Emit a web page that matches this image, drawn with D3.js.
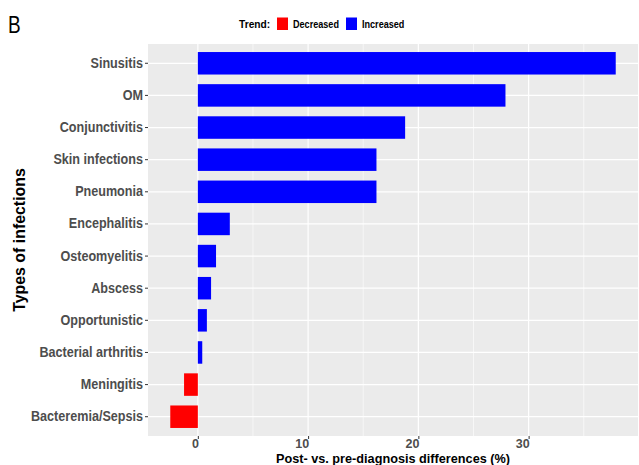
<!DOCTYPE html>
<html>
  <head>
    <meta charset="utf-8">
    <title>Infections trend</title>
    <script src="https://d3js.org/d3.v7.min.js"></script>
    <style>
      body { margin: 0; background: #fff; }
      svg text { font-family: "Liberation Sans", Arial, sans-serif; }
    </style>
  </head>
  <body>
    <div id="chart"></div>
    <script>
      // data
      const infections = ["Sinusitis", "OM", "Conjunctivitis", "Skin infections", "Pneumonia", "Encephalitis",
        "Osteomyelitis", "Abscess", "Opportunistic", "Bacterial arthritis", "Meningitis", "Bacteremia/Sepsis"];
      const differences = [37.9, 27.9, 18.8, 16.2, 16.2, 2.9, 1.65, 1.2, 0.82, 0.4, -1.25, -2.5];
      const xTicks = [0, 10, 20, 30];
      const trendLabels = ["Decreased", "Increased"];
      const trendColours = ["#FF0000", "#0000FF"];

      const width = 639, height = 465;
      const margin = { top: 44, right: 1, bottom: 29, left: 148 };
      const stretch = "scale(1,1.1)"; // source text looks a bit tall

      const svg = d3.select("#chart").append("svg")
        .attr("width", width)
        .attr("height", height);

      // ggplot-style 5% expansion of the data range
      const lo = d3.min(differences), hi = d3.max(differences);
      const pad = (hi - lo) * 0.05;
      const x = d3.scaleLinear()
        .domain([lo - pad, hi + pad])
        .range([margin.left, width - margin.right]);
      const y = d3.scaleBand()
        .domain(infections)
        .range([margin.top, height - margin.bottom])
        .paddingInner(0.3)
        .paddingOuter(0.25);

      // panel
      svg.append("rect")
        .attr("x", margin.left)
        .attr("y", margin.top)
        .attr("width", width - margin.right - margin.left)
        .attr("height", height - margin.bottom - margin.top)
        .attr("fill", "#EBEBEB");

      // minor grid
      const minor = xTicks.map(d => d + 5).filter(d => d < x.domain()[1]);
      svg.append("g").selectAll("line")
        .data(minor)
        .enter().append("line")
          .attr("x1", d => x(d)).attr("x2", d => x(d))
          .attr("y1", margin.top).attr("y2", height - margin.bottom)
          .attr("stroke", "#fff").attr("stroke-width", 0.6);
      // major grid
      svg.append("g").selectAll("line")
        .data(xTicks)
        .enter().append("line")
          .attr("x1", d => x(d)).attr("x2", d => x(d))
          .attr("y1", margin.top).attr("y2", height - margin.bottom)
          .attr("stroke", "#fff").attr("stroke-width", 1.2);
      svg.append("g").selectAll("line")
        .data(infections)
        .enter().append("line")
          .attr("x1", margin.left).attr("x2", width - margin.right)
          .attr("y1", d => y(d) + y.bandwidth() / 2).attr("y2", d => y(d) + y.bandwidth() / 2)
          .attr("stroke", "#fff").attr("stroke-width", 1.2);

      // bars
      svg.append("g").selectAll("rect")
        .data(infections)
        .enter().append("rect")
          .attr("x", (d, i) => x(Math.min(0, differences[i])))
          .attr("y", d => y(d))
          .attr("width", (d, i) => Math.abs(x(differences[i]) - x(0)))
          .attr("height", y.bandwidth())
          .attr("fill", (d, i) => differences[i] < 0 ? trendColours[0] : trendColours[1]);

      // axes
      const xAxis = svg.append("g")
        .attr("transform", `translate(0,${height - margin.bottom})`)
        .call(d3.axisBottom(x).tickValues(xTicks).tickSize(3).tickPadding(3));
      const yAxis = svg.append("g")
        .attr("transform", `translate(${margin.left},0)`)
        .call(d3.axisLeft(y).tickSize(3).tickPadding(2));
      [xAxis, yAxis].forEach(a => {
        a.select(".domain").remove();
        a.selectAll(".tick line").attr("stroke", "#333");
        a.selectAll(".tick text")
          .attr("fill", "#4D4D4D")
          .attr("font-weight", "bold");
      });
      yAxis.selectAll(".tick text").attr("font-size", "12.6px").attr("transform", stretch);
      // tick labels in the source sit flush right against their tick
      xAxis.selectAll(".tick text")
        .attr("font-size", "12.5px")
        .attr("text-anchor", "end")
        .attr("x", 0.5)
        .attr("y", 3);

      // axis titles
      svg.append("text")
        .attr("x", (margin.left + width - margin.right) / 2)
        .attr("y", height - 2.5)
        .attr("text-anchor", "middle")
        .attr("font-size", "12.7px")
        .attr("font-weight", "bold")
        .text("Post- vs. pre-diagnosis differences (%)");
      svg.append("text")
        .attr("transform", `translate(25,${(margin.top + height - margin.bottom) / 2}) rotate(-90)`)
        .attr("text-anchor", "middle")
        .attr("font-size", "15.9px")
        .attr("font-weight", "bold")
        .text("Types of infections");

      // legend
      const legend = svg.append("g").attr("transform", "translate(239,24)");
      legend.append("text")
        .attr("transform", stretch)
        .attr("dy", "0.35em")
        .attr("font-size", "10.2px")
        .attr("font-weight", "bold")
        .text("Trend:");
      const keyX = [38, 107];
      trendLabels.forEach((lab, i) => {
        legend.append("rect")
          .attr("x", keyX[i]).attr("y", -6.5)
          .attr("width", 11).attr("height", 12.5)
          .attr("fill", trendColours[i]);
        legend.append("text")
          .attr("x", keyX[i] + 16)
          .attr("dy", "0.35em")
          .attr("transform", stretch)
          .attr("font-size", "9.1px")
          .attr("font-weight", "bold")
          .text(lab);
      });

      // panel tag
      svg.append("text")
        .attr("x", 0)
        .attr("transform", "translate(8,33) scale(1,1.25)")
        .attr("font-family", "'Open Sans', sans-serif")
        .attr("font-size", "19px")
        .text("B");
    </script>
  </body>
</html>
